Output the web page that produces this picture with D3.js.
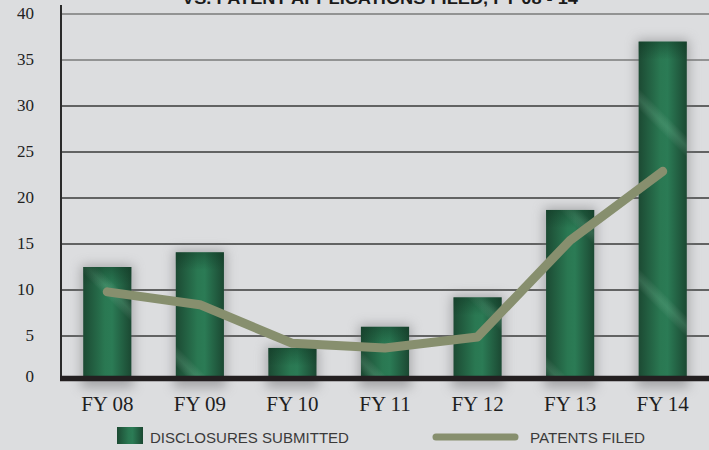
<!DOCTYPE html>
<html>
<head>
<meta charset="utf-8">
<script src="https://cdn.jsdelivr.net/npm/d3@7"></script>
<style>
  html, body { margin: 0; padding: 0; background: #dcdddf; }
  svg { display: block; }
</style>
</head>
<body>
<div id="chart"></div>
<script>
let width = 709;
let height = 450;

// data
let years = ["FY 08", "FY 09", "FY 10", "FY 11", "FY 12", "FY 13", "FY 14"];
let disclosures = [12.5, 14.1, 3.7, 6.0, 9.2, 18.7, 37.0];
let patents = [9.8, 8.4, 4.2, 3.7, 4.9, 15.4, 22.9];
let yTicks = [0, 5, 10, 15, 20, 25, 30, 35, 40];

let left = 61;
let axisOffset = 6; // the drawn baseline sits a bit above the zero of the gridlines

let svg = d3.select("#chart").append("svg")
	.attr("width", width)
	.attr("height", height);

svg.append("rect")
	.attr("width", width)
	.attr("height", height)
	.attr("fill", "#dcdddf");

let defs = svg.append("defs");

let barGrad = defs.append("linearGradient")
	.attr("id", "barGrad")
	.attr("x1", "0%").attr("x2", "100%")
	.attr("y1", "0%").attr("y2", "0%");
barGrad.append("stop").attr("offset", "0%").attr("stop-color", "#1c4a33");
barGrad.append("stop").attr("offset", "45%").attr("stop-color", "#2a7852");
barGrad.append("stop").attr("offset", "60%").attr("stop-color", "#2b7b55");
barGrad.append("stop").attr("offset", "100%").attr("stop-color", "#1b4832");

// faint diagonal streaks, repeated in page space
let shineGrad = defs.append("linearGradient")
	.attr("id", "shineGrad")
	.attr("gradientUnits", "userSpaceOnUse")
	.attr("spreadMethod", "repeat")
	.attr("x1", 0).attr("y1", 90)
	.attr("x2", 90).attr("y2", 0);
shineGrad.append("stop").attr("offset", "0%").attr("stop-color", "#ffffff").attr("stop-opacity", 0);
shineGrad.append("stop").attr("offset", "44%").attr("stop-color", "#ffffff").attr("stop-opacity", 0);
shineGrad.append("stop").attr("offset", "50%").attr("stop-color", "#a8e6c4").attr("stop-opacity", 0.16);
shineGrad.append("stop").attr("offset", "56%").attr("stop-color", "#ffffff").attr("stop-opacity", 0);
shineGrad.append("stop").attr("offset", "100%").attr("stop-color", "#ffffff").attr("stop-opacity", 0);

let topGrad = defs.append("linearGradient")
	.attr("id", "topGrad")
	.attr("x1", "0%").attr("x2", "0%")
	.attr("y1", "0%").attr("y2", "100%");
topGrad.append("stop").attr("offset", "0%").attr("stop-color", "#0f3522").attr("stop-opacity", 0.45);
topGrad.append("stop").attr("offset", "100%").attr("stop-color", "#0f3522").attr("stop-opacity", 0);

let shadow = defs.append("filter")
	.attr("id", "shadow")
	.attr("x", "-60%").attr("y", "-30%")
	.attr("width", "220%").attr("height", "160%");
shadow.append("feGaussianBlur").attr("stdDeviation", 6);

let xScale = d3.scaleBand()
	.domain(years)
	.range([left, width])
	.paddingInner(0.48)
	.paddingOuter(0.24);

let yScale = d3.scaleLinear()
	.domain([0, 40])
	.range([382, 14]);

let baseY = yScale(0) - axisOffset;

// gridlines
svg.append("g")
	.selectAll("line")
	.data(yTicks.filter(d => d > 0))
	.enter()
	.append("line")
	.attr("x1", left)
	.attr("x2", width)
	.attr("y1", d => yScale(d))
	.attr("y2", d => yScale(d))
	.attr("stroke", d => d >= 35 ? "#7a7a7a" : "#3a3a3a")
	.attr("stroke-width", 1.4);

// title (top line cut off in the original)
svg.append("text")
	.text("VS. PATENT APPLICATIONS FILED, FY 08 - 14")
	.attr("x", 380)
	.attr("y", 4)
	.attr("text-anchor", "middle")
	.attr("font-family", "Liberation Sans, Arial, sans-serif")
	.attr("font-weight", "bold")
	.attr("font-size", 17)
	.attr("textLength", 396)
	.attr("lengthAdjust", "spacingAndGlyphs")
	.attr("fill", "#1a1a1a");

// bar shadows
svg.append("g")
	.selectAll("rect")
	.data(disclosures)
	.enter()
	.append("rect")
	.attr("x", (d, i) => xScale(years[i]) - 2)
	.attr("y", d => yScale(d) - 2)
	.attr("width", xScale.bandwidth() + 4)
	.attr("height", d => baseY - yScale(d) + 14)
	.attr("fill", "#6f7072")
	.attr("opacity", 0.5)
	.attr("filter", "url(#shadow)");

let bars = svg.append("g");
["url(#barGrad)", "url(#shineGrad)"].forEach(fill => {
	bars.append("g")
		.selectAll("rect")
		.data(disclosures)
		.enter()
		.append("rect")
		.attr("x", (d, i) => xScale(years[i]))
		.attr("y", d => yScale(d))
		.attr("width", xScale.bandwidth())
		.attr("height", d => baseY - yScale(d))
		.attr("fill", fill);
});
bars.append("g")
	.selectAll("rect")
	.data(disclosures)
	.enter()
	.append("rect")
	.attr("x", (d, i) => xScale(years[i]))
	.attr("y", d => yScale(d))
	.attr("width", xScale.bandwidth())
	.attr("height", d => Math.min(18, baseY - yScale(d)))
	.attr("fill", "url(#topGrad)");

// y axis line
svg.append("line")
	.attr("x1", left).attr("x2", left)
	.attr("y1", 5).attr("y2", baseY)
	.attr("stroke", "#2a2a2a")
	.attr("stroke-width", 2);

// baseline
svg.append("line")
	.attr("x1", left - 1).attr("x2", width)
	.attr("y1", baseY + 2.5).attr("y2", baseY + 2.5)
	.attr("stroke", "#231f20")
	.attr("stroke-width", 5.5);

// y tick labels
svg.append("g")
	.selectAll("text")
	.data(yTicks)
	.enter()
	.append("text")
	.text(d => d)
	.attr("x", 34)
	.attr("y", d => d === 0 ? baseY + 6 : yScale(d) + 5)
	.attr("text-anchor", "end")
	.attr("font-family", "Liberation Serif, serif")
	.attr("font-size", 17)
	.attr("fill", "#222");

// x labels
let xAxis = d3.axisBottom(xScale).tickSize(0).tickPadding(0);
let gx = svg.append("g")
	.attr("transform", `translate(0,${baseY + 20})`)
	.call(xAxis);
gx.select(".domain").remove();
gx.selectAll("text")
	.attr("dy", "0.72em")
	.attr("font-family", "Liberation Serif, serif")
	.attr("font-size", 21)
	.attr("fill", "#1f1f1f");

// patents line
let line = d3.line()
	.x((d, i) => xScale(years[i]) + xScale.bandwidth() / 2)
	.y(d => yScale(d));

svg.append("path")
	.datum(patents)
	.attr("d", line)
	.attr("fill", "none")
	.attr("stroke", "#878f6e")
	.attr("stroke-width", 9)
	.attr("stroke-linecap", "round")
	.attr("stroke-linejoin", "round");

// legend
let legend = svg.append("g");
legend.append("rect")
	.attr("x", 117).attr("y", 427)
	.attr("width", 26).attr("height", 17)
	.attr("fill", "url(#barGrad)");
legend.append("text")
	.text("DISCLOSURES SUBMITTED")
	.attr("x", 150).attr("y", 443)
	.attr("font-family", "Liberation Sans, Arial, sans-serif")
	.attr("font-size", 15)
	.attr("textLength", 199)
	.attr("lengthAdjust", "spacingAndGlyphs")
	.attr("fill", "#3a3a3a");
legend.append("line")
	.attr("x1", 436).attr("x2", 515)
	.attr("y1", 437).attr("y2", 437)
	.attr("stroke", "#878f6e")
	.attr("stroke-width", 7)
	.attr("stroke-linecap", "round");
legend.append("text")
	.text("PATENTS FILED")
	.attr("x", 530).attr("y", 443)
	.attr("font-family", "Liberation Sans, Arial, sans-serif")
	.attr("font-size", 15)
	.attr("textLength", 115)
	.attr("lengthAdjust", "spacingAndGlyphs")
	.attr("fill", "#3a3a3a");
</script>
</body>
</html>
